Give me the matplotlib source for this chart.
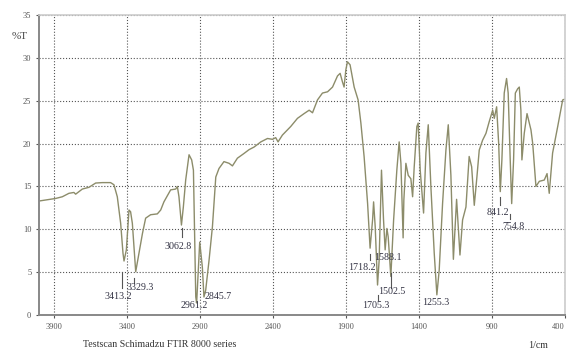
import matplotlib.pyplot as plt

plt.rcParams['font.family'] = ['Liberation Serif', 'DejaVu Serif']

# FTIR spectrum (wavenumber 1/cm, %T)
wavenumber = [4000, 3886, 3840, 3795, 3761, 3749, 3703, 3658, 3612, 3566,
              3510, 3487, 3464, 3441, 3425, 3418, 3402, 3384, 3373, 3361,
              3338, 3316, 3292, 3270, 3236, 3190, 3167, 3145, 3099, 3064,
              3053, 3042, 3025, 3012, 2996, 2973, 2955, 2943, 2927, 2921,
              2900, 2882, 2871, 2859, 2836, 2813, 2790, 2768, 2734, 2699,
              2676, 2642, 2597, 2562, 2528, 2482, 2436, 2402, 2380, 2364,
              2334, 2277, 2231, 2186, 2151, 2128, 2094, 2060, 2025, 1991,
              1957, 1939, 1923, 1912, 1900, 1889, 1871, 1843, 1816, 1797,
              1775, 1751, 1734, 1717, 1710, 1699, 1683, 1672, 1656, 1642,
              1631, 1619, 1610, 1592, 1573, 1551, 1535, 1523, 1513, 1508,
              1503, 1489, 1473, 1455, 1443, 1432, 1414, 1405, 1391, 1368,
              1352, 1336, 1318, 1295, 1277, 1261, 1238, 1215, 1199, 1181,
              1164, 1142, 1119, 1101, 1078, 1056, 1039, 1021, 1003, 987,
              964, 941, 919, 895, 884, 868, 854, 843, 832, 816,
              800, 789, 775, 765, 752, 740, 724, 713, 702, 695,
              679, 660, 633, 621, 599, 576, 542, 523, 508, 485,
              450, 416, 400]
transmittance = [13.3, 13.6, 13.8, 14.2, 14.3, 14.1, 14.7, 14.9, 15.4, 15.45,
                 15.45, 15.2, 13.8, 10.7, 7.2, 6.3, 7.6, 12.25, 12.05, 10.7,
                 5.05, 7.2, 9.5, 11.3, 11.7, 11.8, 12.25, 13.2, 14.6, 14.7,
                 15.0, 13.8, 10.5, 12.6, 15.75, 18.7, 18.1, 16.9, 2.1, 1.4,
                 8.5, 5.6, 2.1, 2.9, 6.4, 10.3, 16.1, 17.1, 17.9, 17.7,
                 17.4, 18.3, 18.85, 19.3, 19.6, 20.2, 20.6, 20.5, 20.7, 20.2,
                 21.0, 22.0, 22.95, 23.5, 23.9, 23.6, 25.1, 25.9, 26.05, 26.6,
                 27.9, 28.2, 27.2, 26.6, 28.6, 29.55, 29.2, 26.6, 25.1, 22.4,
                 18.5, 13.0, 7.8, 11.1, 13.2, 10.3, 3.5, 6.4, 16.9, 11.1,
                 7.6, 10.1, 9.1, 4.5, 11.1, 16.9, 20.2, 17.7, 11.7, 9.0,
                 13.4, 17.7, 16.3, 15.9, 13.8, 17.3, 22.0, 22.4, 16.9, 11.9,
                 18.9, 22.2, 15.0, 7.2, 2.35, 5.25, 13.0, 19.25, 22.2, 16.3,
                 6.5, 13.5, 7.0, 11.1, 12.6, 18.5, 17.3, 12.8, 16.1, 19.25,
                 20.4, 21.2, 22.55, 23.9, 22.95, 24.3, 20.0, 14.4, 18.1, 25.9,
                 27.6, 25.9, 18.1, 13.0, 18.1, 25.9, 26.4, 26.6, 23.9, 18.1,
                 21.2, 23.5, 21.6, 20.0, 15.0, 15.6, 15.75, 16.5, 14.2, 18.9,
                 22.0, 25.1, 25.2]

# peak labels: text, text position, marker line (x, y top, y bottom)
peak_text = ['3413.2', '3329.3', '3062.8', '2961.2', '2845.7', '1718.2',
             '1588.1', '1502.5', '1705.3', '1255.3', '841.2', '754.8']
text_x = [3455, 3304, 3051, 2941, 2777, 1790, 1612, 1585, 1695, 1284, 859, 750]
text_y = [2.1, 3.15, 8.05, 1.1, 2.1, 5.6, 6.7, 2.7, 1.15, 1.45, 12.0, 10.3]
mark_x = [3434, 3352, 3023, 1738, 1590, 1681, 845, 775]
mark_top = [5.0, 4.3, 10.2, 7.1, 4.9, 2.3, 13.8, 11.75]
mark_bottom = [3.15, 3.7, 9.1, 6.4, 3.15, 1.75, 12.8, 11.2]

fig = plt.figure(figsize=(5.69, 3.51), dpi=100)
ax = fig.add_axes([0.0685, 0.1026, 0.9245, 0.8544])

ax.plot(wavenumber, transmittance, color='#8c8c6a', linewidth=1.0)

for i in range(len(peak_text)):
    ax.text(text_x[i], text_y[i], peak_text[i], fontsize=7.2, color='#333344',
            ha='center', va='center')
for i in range(len(mark_x)):
    ax.plot([mark_x[i], mark_x[i]], [mark_top[i], mark_bottom[i]],
            color='#555555', linewidth=0.8)

ax.set_xlim(4000, 400)
ax.set_ylim(0, 35)
ax.set_xticks([3900, 3400, 2900, 2400, 1900, 1400, 900, 400])
ax.set_yticks([0, 5, 10, 15, 20, 25, 30, 35])
ax.tick_params(labelsize=6, colors='#555555', length=2, width=0.8)
# last x label sits at the right edge, keep it inside the picture
ax.get_xticklabels()[-1].set_horizontalalignment('right')
ax.grid(True, linestyle=':', color='#555555', linewidth=0.8)

for s in ['left', 'bottom']:
    ax.spines[s].set_color('#888888')
    ax.spines[s].set_linewidth(1.4)
for s in ['top', 'right']:
    ax.spines[s].set_color('#cccccc')
    ax.spines[s].set_linewidth(1.2)

fig.text(0.035, 0.89, '%T', fontsize=8, color='#444444', ha='center')
fig.text(0.28, 0.01, 'Testscan Schimadzu FTIR 8000 series', fontsize=7.2,
         color='#333333', ha='center')
fig.text(0.945, 0.002, '1/cm', fontsize=7.2, color='#333333', ha='center',
         va='bottom')

fig.savefig('out.png', dpi=100)
